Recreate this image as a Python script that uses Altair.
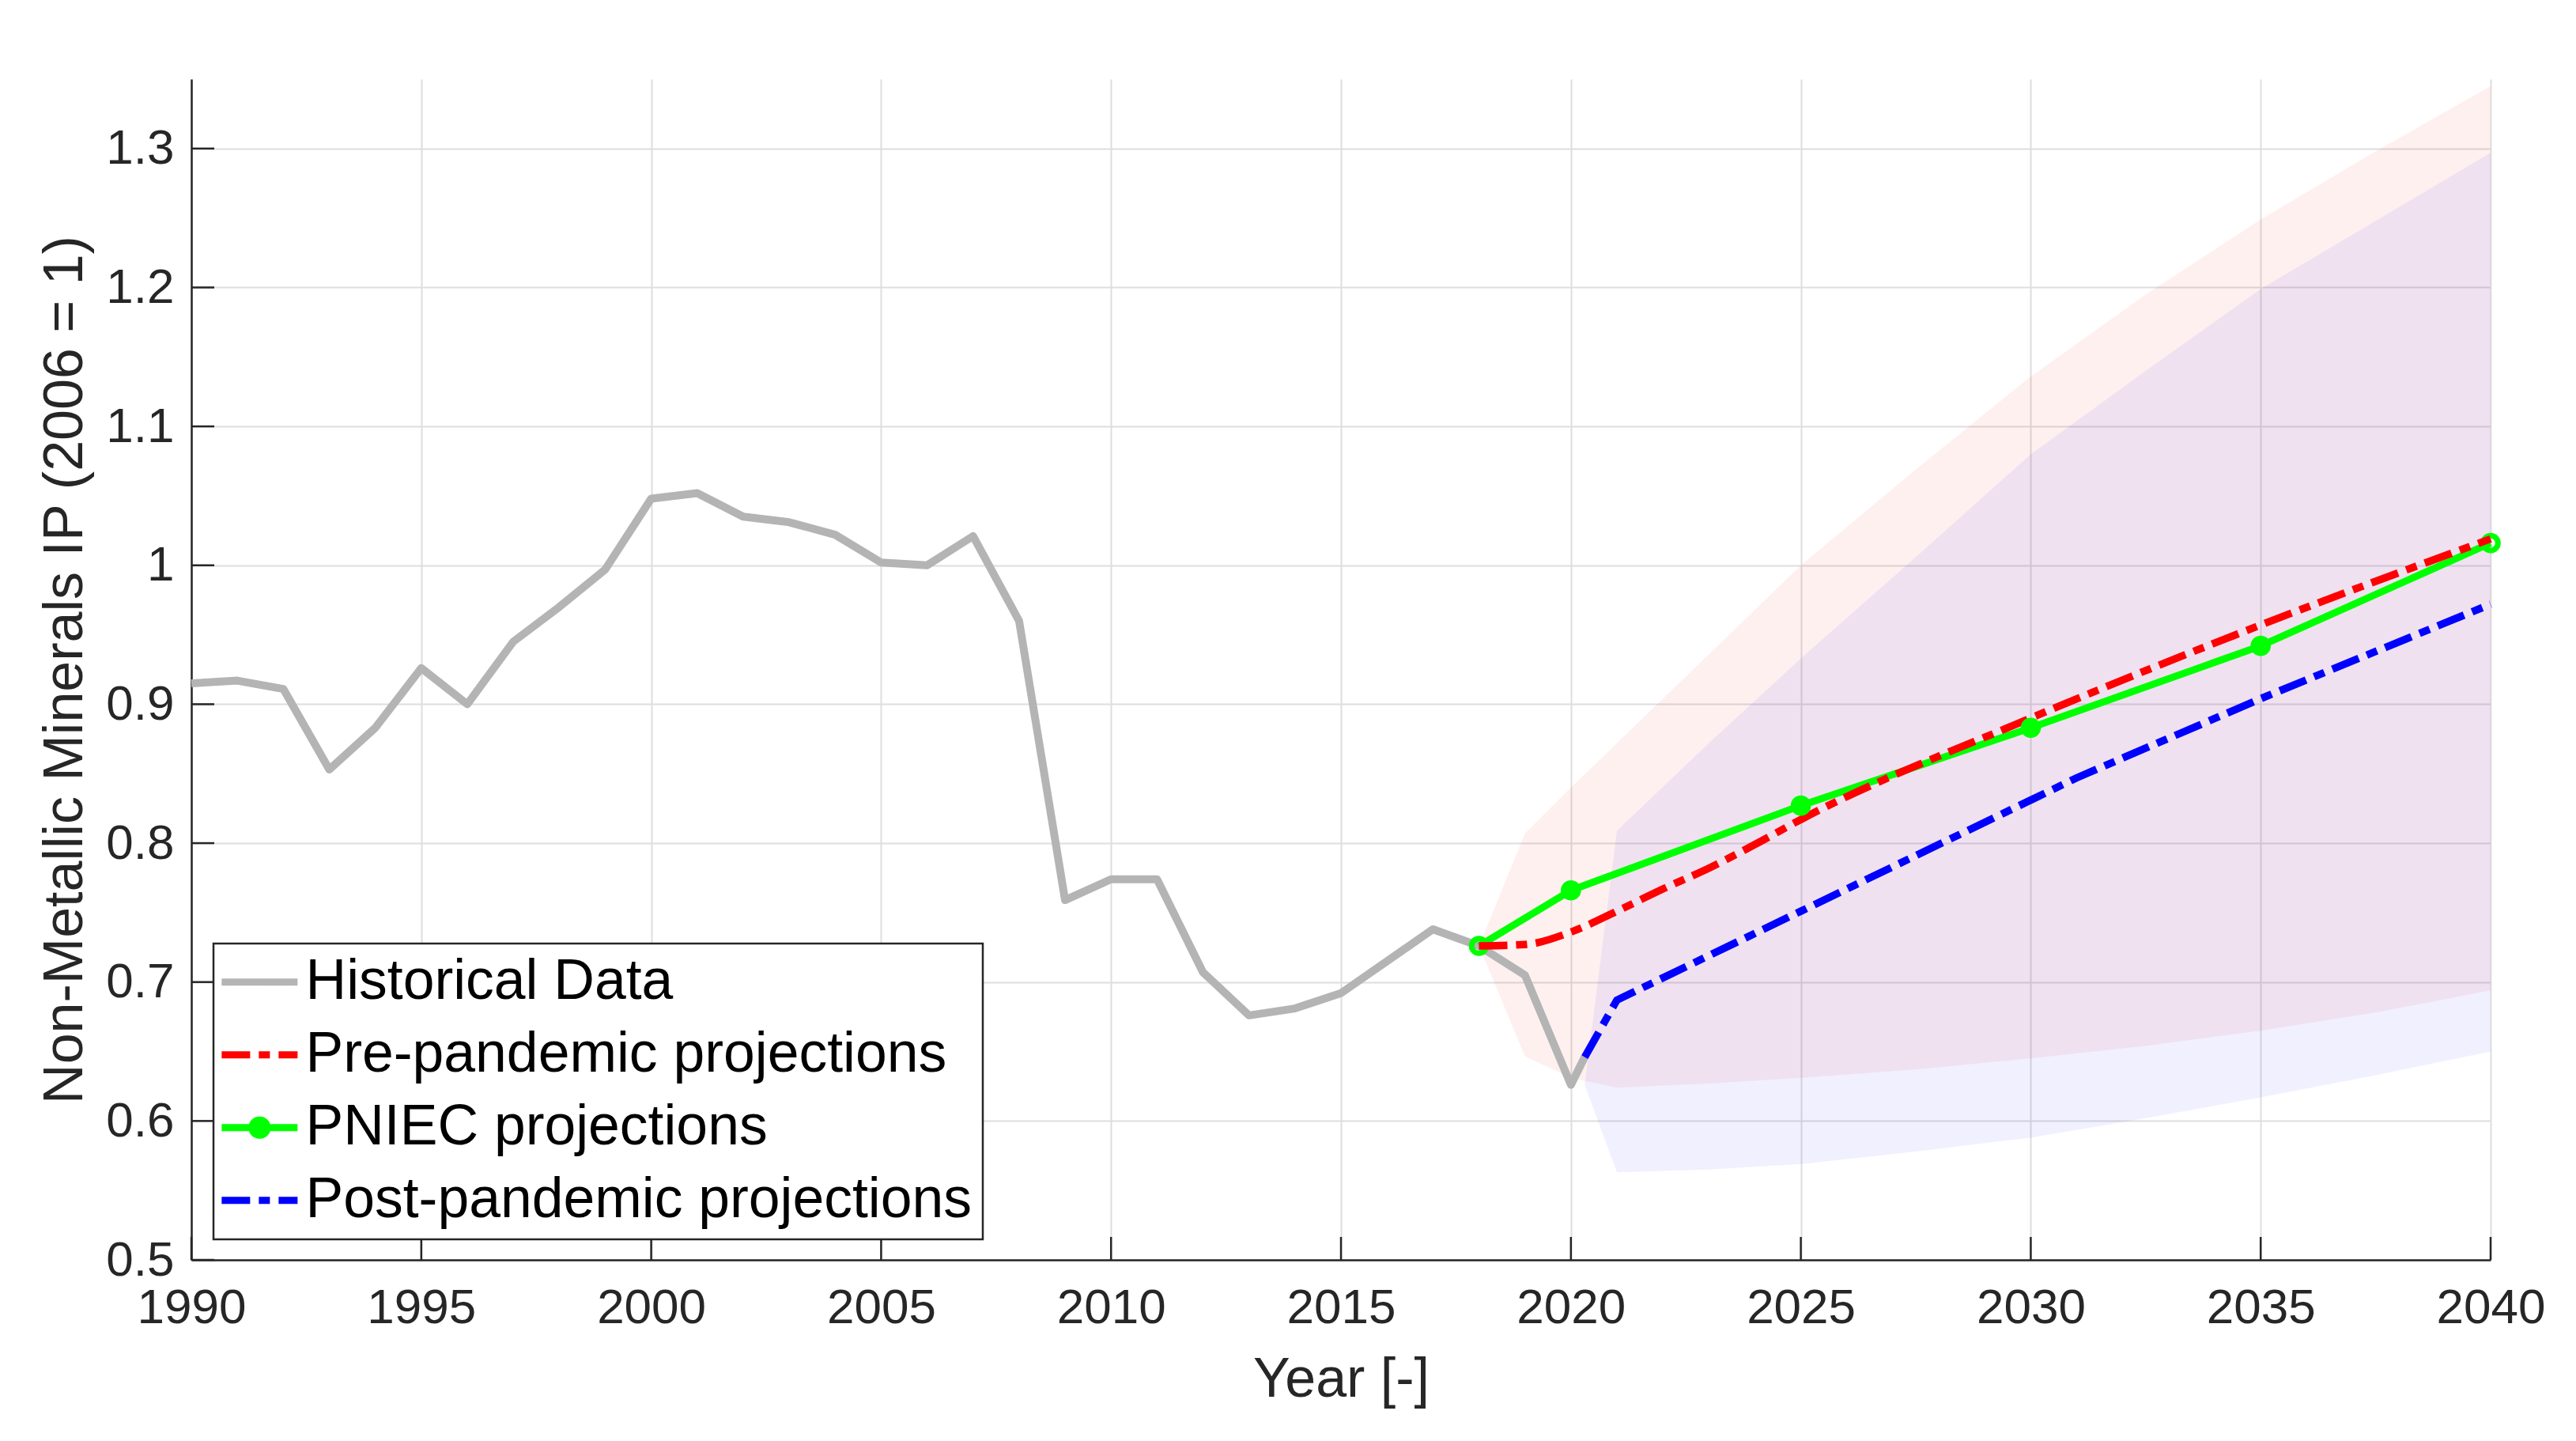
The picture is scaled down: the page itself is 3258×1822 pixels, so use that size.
import altair as alt
import pandas as pd

# ---------------- data ----------------
hist_years = [1990, 1991, 1992, 1993, 1994, 1995, 1996, 1997, 1998, 1999,
              2000, 2001, 2002, 2003, 2004, 2005, 2006, 2007, 2008, 2009,
              2010, 2011, 2012, 2013, 2014, 2015, 2016, 2017, 2018, 2019,
              2020, 2020.3]
hist_values = [0.915, 0.917, 0.911, 0.853, 0.883, 0.926, 0.900, 0.945, 0.970, 0.997,
               1.048, 1.052, 1.035, 1.031, 1.022, 1.002, 1.000, 1.021, 0.960, 0.759,
               0.774, 0.774, 0.707, 0.676, 0.681, 0.692, 0.715, 0.738, 0.726, 0.705,
               0.626, 0.646]

pre_years = [2018, 2019, 2020, 2021, 2022, 2023, 2024, 2025, 2030, 2035, 2040]
pre_values = [0.726, 0.727, 0.736, 0.751, 0.767, 0.782, 0.799, 0.817, 0.890, 0.957, 1.019]

pniec_years = [2018, 2020, 2025, 2030, 2035, 2040]
pniec_values = [0.726, 0.766, 0.827, 0.883, 0.942, 1.016]

post_years = [2020.3, 2021, 2025, 2030, 2031, 2035, 2040]
post_values = [0.646, 0.687, 0.751, 0.831, 0.847, 0.904, 0.972]

pre_band_years = [2018, 2019, 2020, 2021, 2023, 2025, 2027.5, 2030, 2032.5, 2035, 2037.5, 2040]
pre_band_low = [0.726, 0.6465, 0.631, 0.624, 0.627, 0.631, 0.637, 0.645, 0.654, 0.665, 0.678, 0.694]
pre_band_high = [0.726, 0.807, 0.840, 0.872, 0.936, 1.000, 1.069, 1.136, 1.195, 1.249, 1.298, 1.345]

post_band_years = [2020.3, 2021, 2023, 2025, 2027.5, 2030, 2032.5, 2035, 2037.5, 2040]
post_band_low = [0.626, 0.563, 0.565, 0.569, 0.578, 0.588, 0.602, 0.617, 0.633, 0.650]
post_band_high = [0.626, 0.809, 0.872, 0.933, 1.006, 1.080, 1.140, 1.199, 1.248, 1.297]

series_names = ["Historical Data", "Pre-pandemic projections",
                "PNIEC projections", "Post-pandemic projections"]

x_ticks = [1990, 1995, 2000, 2005, 2010, 2015, 2020, 2025, 2030, 2035, 2040]
y_ticks = [0.5, 0.6, 0.7, 0.8, 0.9, 1.0, 1.1, 1.2, 1.3]

# ---------------- styling ----------------
FONT = "Liberation Sans"
DARK = "#262626"
GRAY = "#B4B4B4"
RED = "#FF0000"
GREEN = "#00FF00"
BLUE = "#0000FF"
DASHDOT = [36, 11, 14, 11]
W, H = 2908, 1493

series_colors = [GRAY, RED, GREEN, BLUE]
series_dashes = [[1, 0], DASHDOT, [1, 0], DASHDOT]
line_path = "M-1.6,0H2.4"
pniec_path = ("M-1.6,0H2.4"
              "M0.8,0A0.4,0.4 0 1 1 0,0A0.4,0.4 0 1 1 0.8,0"
              "M0.55,0A0.15,0.15 0 1 1 0.25,0A0.15,0.15 0 1 1 0.55,0")
series_shapes = [line_path, line_path, pniec_path, line_path]

# ---------------- tables ----------------
hist_df = pd.DataFrame({"year": hist_years, "value": hist_values})
pre_df = pd.DataFrame({"year": pre_years, "value": pre_values})
pniec_df = pd.DataFrame({"year": pniec_years, "value": pniec_values})
pniec_df["end"] = pniec_df["year"].isin([min(pniec_years), max(pniec_years)])
post_df = pd.DataFrame({"year": post_years, "value": post_values})
pre_band_df = pd.DataFrame({"year": pre_band_years, "lo": pre_band_low, "hi": pre_band_high})
post_band_df = pd.DataFrame({"year": post_band_years, "lo": post_band_low, "hi": post_band_high})

legend_df = pd.concat([
    hist_df.assign(series=series_names[0]),
    pre_df.assign(series=series_names[1]),
    pniec_df[["year", "value"]].assign(series=series_names[2]),
    post_df.assign(series=series_names[3]),
], ignore_index=True)

xticks_df = pd.DataFrame({"year": x_ticks})
yticks_df = pd.DataFrame({"value": y_ticks})

# ---------------- shared encodings ----------------
x_scale = alt.Scale(domain=[1990, 2040], nice=False, zero=False)
y_scale = alt.Scale(domain=[0.5, 1.35], nice=False, zero=False)

x_axis = alt.Axis(
    values=x_ticks, format="d", title="Year [-]",
    titleFont=FONT, titleFontSize=70, titleFontWeight="normal", titleColor=DARK,
    titlePadding=26,
    labelFont=FONT, labelFontSize=62, labelColor=DARK, labelPadding=30,
    labelFlush=False, labelOverlap=False,
    ticks=False, tickSize=0,
    domainColor=DARK, domainWidth=2.5,
    grid=True, gridColor="#DEDEDE", gridWidth=2,
)
y_axis = alt.Axis(
    values=y_ticks, format="~g", title="Non-Metallic Minerals IP (2006 = 1)",
    titleFont=FONT, titleFontSize=70, titleFontWeight="normal", titleColor=DARK,
    titlePadding=15,
    labelFont=FONT, labelFontSize=62, labelColor=DARK, labelPadding=22,
    labelOverlap=False,
    ticks=False, tickSize=0,
    domainColor=DARK, domainWidth=2.5,
    grid=True, gridColor="#DEDEDE", gridWidth=2,
)


def xenc():
    return alt.X("year:Q", scale=x_scale, axis=x_axis, title="Year [-]")


def yenc(field="value"):
    return alt.Y(f"{field}:Q", scale=y_scale, axis=y_axis,
                 title="Non-Metallic Minerals IP (2006 = 1)")


# ---------------- layers ----------------
pre_band = alt.Chart(pre_band_df).mark_area(color=RED, opacity=0.06).encode(
    x=xenc(), y=yenc("lo"), y2="hi:Q")
post_band = alt.Chart(post_band_df).mark_area(color=BLUE, opacity=0.06).encode(
    x=xenc(), y=yenc("lo"), y2="hi:Q")

hist_line = alt.Chart(hist_df).mark_line(
    color=GRAY, strokeWidth=10, strokeJoin="round").encode(x=xenc(), y=yenc())

pniec_line = alt.Chart(pniec_df).mark_line(
    color=GREEN, strokeWidth=9, strokeJoin="round").encode(x=xenc(), y=yenc())

pniec_open = alt.Chart(pniec_df).transform_filter("datum.end").mark_point(
    shape="circle", filled=False, color=GREEN, strokeWidth=7, size=346, opacity=1
).encode(x=xenc(), y=yenc())

pre_line = alt.Chart(pre_df).mark_line(
    color=RED, strokeWidth=9.5, strokeDash=DASHDOT, interpolate="monotone"
).encode(x=xenc(), y=yenc())

post_line = alt.Chart(post_df).mark_line(
    color=BLUE, strokeWidth=9.5, strokeDash=DASHDOT).encode(x=xenc(), y=yenc())

pniec_filled = alt.Chart(pniec_df).transform_filter("!datum.end").mark_point(
    shape="circle", filled=True, color=GREEN, size=660, opacity=1
).encode(x=xenc(), y=yenc())

x_tick_marks = alt.Chart(xticks_df).mark_rule(color=DARK, strokeWidth=2.5).encode(
    x=xenc(), y=alt.value(H), y2=alt.value(H - 29))
y_tick_marks = alt.Chart(yticks_df).mark_rule(color=DARK, strokeWidth=2.5).encode(
    y=yenc(), x=alt.value(0), x2=alt.value(29))

legend = alt.Legend(
    title=None, orient="none", legendX=28, legendY=1093, direction="vertical",
    fillColor="white", strokeColor=DARK, padding=13,
    labelFont=FONT, labelFontSize=71.5, labelColor="black", labelLimit=1500,
    labelOffset=32, rowPadding=19,
    symbolSize=2304, symbolStrokeWidth=9, symbolOpacity=1,
)
legend_layer = alt.Chart(legend_df).mark_point(
    filled=False, opacity=0, size=2304, strokeWidth=9
).encode(
    x=xenc(), y=yenc(),
    color=alt.Color("series:N", scale=alt.Scale(domain=series_names, range=series_colors),
                    legend=legend),
    shape=alt.Shape("series:N", scale=alt.Scale(domain=series_names, range=series_shapes),
                    legend=legend),
    strokeDash=alt.StrokeDash("series:N", scale=alt.Scale(domain=series_names, range=series_dashes),
                              legend=legend),
)

chart = alt.layer(
    pre_band, post_band, hist_line, pniec_line, pniec_open, pre_line, post_line,
    pniec_filled, x_tick_marks, y_tick_marks, legend_layer
).properties(
    width=W, height=H,
    autosize=alt.AutoSizeParams(type="none"),
    padding={"left": 234, "top": 92, "right": 92, "bottom": 200},
    background="white",
).configure(font=FONT).configure_view(strokeWidth=0).configure_legend(strokeWidth=2.5)

chart.save("out.html", embed_options={"renderer": "svg", "actions": False})
